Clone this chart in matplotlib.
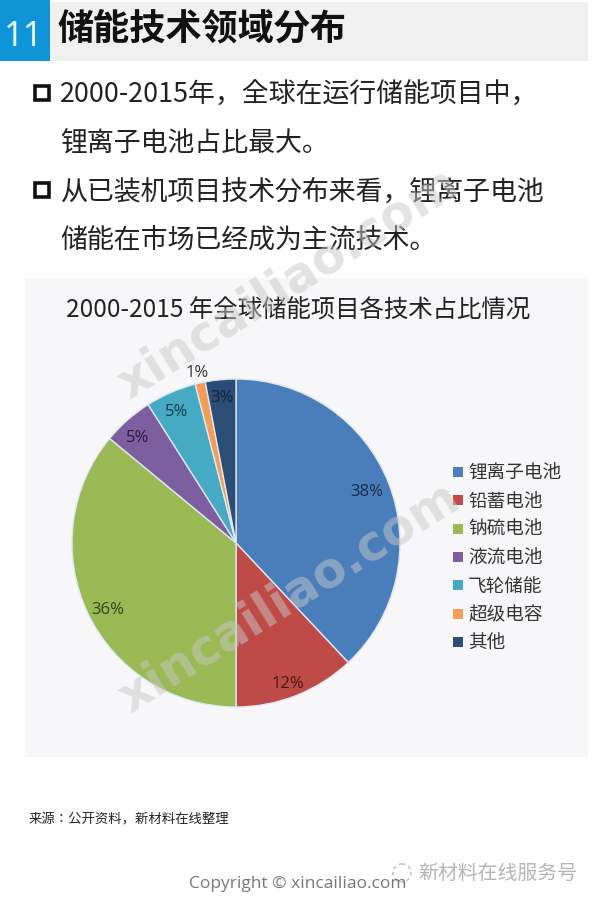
import matplotlib
matplotlib.use("Agg")
import matplotlib.pyplot as plt
from matplotlib.patches import Circle, Rectangle

# only the JP family resolves to a real font file here, it has the Chinese glyphs too
plt.rcParams["font.family"] = ["Noto Sans CJK JP", "DejaVu Sans"]

W, H = 600, 905

categories = ["锂离子电池", "铅蓄电池", "钠硫电池", "液流电池", "飞轮储能", "超级电容", "其他"]
shares = [38, 12, 36, 5, 5, 1, 3]
colors = ["#4a7ebb", "#be4b48", "#98b954", "#7d5fa0", "#46aac5", "#f59d56", "#2c4d75"]
label_colors = ["#12294d", "#4d1512", "#33461a", "#2b1845", "#0f3d4c", "#333333", "#12243f"]

page_title = "储能技术领域分布"
page_number = "11"
bullet_lines = ["2000-2015年，全球在运行储能项目中，", "锂离子电池占比最大。",
                "从已装机项目技术分布来看，锂离子电池", "储能在市场已经成为主流技术。"]
chart_title = "2000-2015 年全球储能项目各技术占比情况"
source_note = "来源：公开资料，新材料在线整理"
copyright_note = "Copyright © xincailiao.com"
wechat_note = "新材料在线服务号"
watermark = "xincailiao.com"


def add_rect(ax, x, y, w, h, color):
    ax.add_patch(Rectangle((x, y), w, h, facecolor=color, edgecolor="none"))


def draw_page(ax):
    # header band and chart panel
    add_rect(ax, 50, 2, 538, 59, "#f0f0f0")
    add_rect(ax, 0, 0, 50, 61, "#0f94d8")
    add_rect(ax, 25, 278, 563, 479, "#f7f7f9")
    ax.text(24, 37, page_number, color="#e8f6fd", fontsize=25, ha="center", va="center",
            family="Noto Sans", fontweight="light")
    ax.text(57, 29, page_title, color="#111111", fontsize=26, fontweight="bold", va="center")

    line_ys = [93, 142, 190, 238]
    for y, line in zip(line_ys, bullet_lines):
        ax.text(60, y + 2, line, color="#222222", fontsize=19.4, va="center")
    for y in (line_ys[0], line_ys[2]):
        ax.add_patch(Rectangle((35, y - 7), 14, 14, facecolor="none",
                               edgecolor="#111111", linewidth=2.6))

    ax.text(298, 311, chart_title, color="#222222", fontsize=17.6, ha="center", va="center")
    ax.text(29, 819, source_note, color="#222222", fontsize=9.6, va="center")
    ax.text(298, 884, copyright_note, color="#777777", fontsize=12.5, ha="center", va="center",
            family="Open Sans")
    ax.text(418, 873, wechat_note, color="#b5b5b5", fontsize=14.3, va="center")
    ax.add_patch(Circle((402, 873), 9, facecolor="none", edgecolor="#c4c4c4",
                        linewidth=1.2, linestyle=(0, (2, 2))))


def draw_watermarks(ax):
    for x, y in [(288, 284), (289, 598)]:
        ax.text(x, y, watermark, color="#c8c8c8", alpha=0.5, fontsize=35,
                fontweight="bold", rotation=32, rotation_mode="anchor",
                ha="center", va="center", family="DejaVu Sans", zorder=10)


def draw_pie(fig):
    cx, cy, r = 236, 543, 164
    ax = fig.add_axes([(cx - r) / W, 1 - (cy + r) / H, 2 * r / W, 2 * r / H])
    ax.pie(shares, colors=colors, startangle=90, counterclock=False, radius=1,
           wedgeprops={"edgecolor": "#dfe8f2", "linewidth": 1.0})
    ax.set_xlim(-1, 1)
    ax.set_ylim(-1, 1)
    ax.set_aspect("equal")
    ax.patch.set_alpha(0)

    # label spots, as fractions of the radius
    label_pos = [(0.80, 0.31), (0.317, -0.862), (-0.78, -0.408), (-0.60, 0.638),
                 (-0.36, 0.797), (-0.238, 1.035), (-0.085, 0.882)]
    for value, (x, y), c in zip(shares, label_pos, label_colors):
        ax.text(x, y, f"{value}%", color=c, fontsize=12, ha="center", va="center",
                family="Open Sans", clip_on=False)


def draw_legend(ax):
    y_start, step = 472, 28.3
    for i, (name, c) in enumerate(zip(categories, colors)):
        y = y_start + i * step
        add_rect(ax, 453, y - 5, 10, 10, c)
        ax.text(468, y + 1.5, name, color="#333333", fontsize=13.4, va="center")


fig = plt.figure(figsize=(W / 100, H / 100), dpi=100, facecolor="white")
page = fig.add_axes([0, 0, 1, 1])
page.set_xlim(0, W)
page.set_ylim(H, 0)
page.axis("off")

draw_page(page)
draw_pie(fig)
draw_legend(page)

overlay = fig.add_axes([0, 0, 1, 1], facecolor="none")
overlay.set_xlim(0, W)
overlay.set_ylim(H, 0)
overlay.axis("off")
draw_watermarks(overlay)

fig.savefig("out.png", dpi=100)
